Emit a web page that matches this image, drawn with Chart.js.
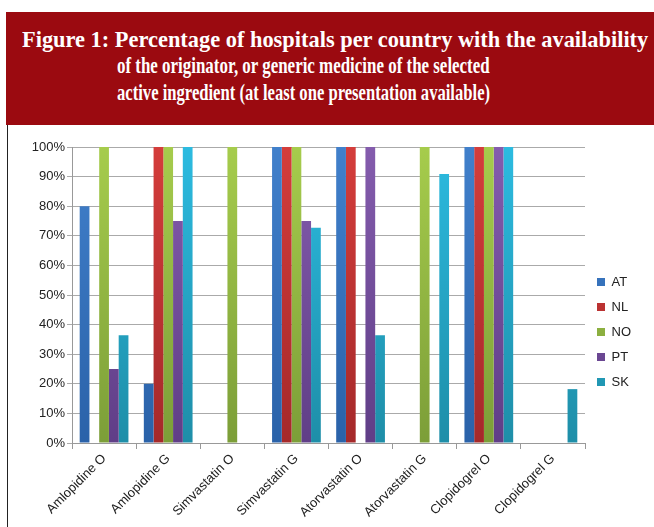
<!DOCTYPE html>
<html>
<head>
<meta charset="utf-8">
<script src="https://cdn.jsdelivr.net/npm/chart.js@4"></script>
<style>
  html, body { margin: 0; padding: 0; background: #fff; }
  body { width: 654px; height: 527px; position: relative; overflow: hidden; }
  #band { position: absolute; left: 6px; top: 12px; width: 648px; height: 113px; background: #9b0a10; }
  .ttl { position: absolute; white-space: nowrap; color: #fff; font-family: "Liberation Serif", serif;
         font-weight: bold; font-size: 24px; line-height: 24px; transform-origin: 0 0; }
  #frame { position: absolute; left: 7px; top: 125px; width: 647px; height: 402px; border-left: 1px solid #222; }
  #wrap { position: absolute; left: 8px; top: 125px; width: 646px; height: 402px; }
</style>
</head>
<body>
<div id="band"></div>
<div class="ttl" id="t1" data-w="626" style="left:22px;top:27px">Figure 1: Percentage of hospitals per country with the availability</div>
<div class="ttl" id="t2" data-w="373" style="left:117px;top:53px">of the originator, or generic medicine of the selected</div>
<div class="ttl" id="t3" data-w="373" style="left:117px;top:80px">active ingredient (at least one presentation available)</div>
<div id="frame"></div>
<div id="wrap"><canvas id="bar-chart"></canvas></div>
<script>
// squeeze title lines to the widths in the figure
document.querySelectorAll('.ttl').forEach(function (el) {
  var s = +el.dataset.w / el.offsetWidth;
  el.style.transform = 'scaleX(' + s + ')';
});

var categories = ["Amlopidine O", "Amlopidine G", "Simvastatin O", "Simvastatin G",
                  "Atorvastatin O", "Atorvastatin G", "Clopidogrel O", "Clopidogrel G"];
var countries = ["AT", "NL", "NO", "PT", "SK"];
var AT = [80, 20, 0, 100, 100, 0, 100, 0];
var NL = [0, 100, 0, 100, 100, 0, 100, 0];
var NO = [100, 100, 100, 100, 0, 100, 100, 0];
var PT = [25, 75, 0, 75, 100, 0, 100, 0];
var SK = [36.4, 100, 0, 72.7, 36.4, 90.9, 100, 18.2];
var yTicks = [0, 10, 20, 30, 40, 50, 60, 70, 80, 90, 100];

var colours = [
  ["#4180cb", "#2a62a9"],
  ["#d43d3b", "#a5292a"],
  ["#a6cc4c", "#7c9e38"],
  ["#845cad", "#603e87"],
  ["#2cbbe0", "#1e8ea8"]
];

function grad(i) {
  return function (ctx) {
    var chart = ctx.chart, area = chart.chartArea;
    if (!area) return colours[i][0];
    var g = chart.ctx.createLinearGradient(0, area.top, 0, area.bottom);
    g.addColorStop(0, colours[i][0]);
    g.addColorStop(1, colours[i][1]);
    return g;
  };
}

var series = [AT, NL, NO, PT, SK];
var datasets = series.map(function (d, i) {
  return { label: countries[i], data: d, backgroundColor: grad(i),
           barPercentage: 1, categoryPercentage: 0.76 };
});

Chart.defaults.font.family = "'Liberation Sans', Arial, sans-serif";
Chart.defaults.font.size = 13;
Chart.defaults.color = "#222";

// legend sits a little higher than its centred spot
var nudgeLegend = {
  id: 'nudgeLegend',
  afterLayout: function (chart) {
    if (chart.legend) { chart.legend.top -= 5; chart.legend.bottom -= 5; }
  }
};

new Chart(document.getElementById("bar-chart"), {
  type: 'bar',
  data: { labels: categories, datasets: datasets },
  plugins: [nudgeLegend],
  options: {
    responsive: true,
    maintainAspectRatio: false,
    animation: false,
    layout: { padding: { top: 22, right: 13, bottom: 0, left: 0 } },
    plugins: {
      tooltip: { enabled: false },
      legend: {
        display: true,
        position: 'right',
        labels: { boxWidth: 8, boxHeight: 8, padding: 12, font: { size: 13 }, color: "#222" }
      }
    },
    scales: {
      x: {
        grid: { display: true, drawOnChartArea: false, tickLength: 6, color: "#999" },
        border: { color: "#999" },
        ticks: { minRotation: 45, maxRotation: 45, padding: 2, font: { size: 13 } },
        afterFit: function (s) { s.height = 84; }
      },
      y: {
        min: 0, max: 100,
        afterBuildTicks: function (s) { s.ticks = yTicks.map(function (v) { return { value: v }; }); },
        grid: { color: "#aaa", tickLength: 5 },
        border: { color: "#999" },
        ticks: { padding: 2, callback: function (v) { return v + "%"; } },
        afterFit: function (s) { s.width = 64; }
      }
    }
  }
});
</script>
</body>
</html>
